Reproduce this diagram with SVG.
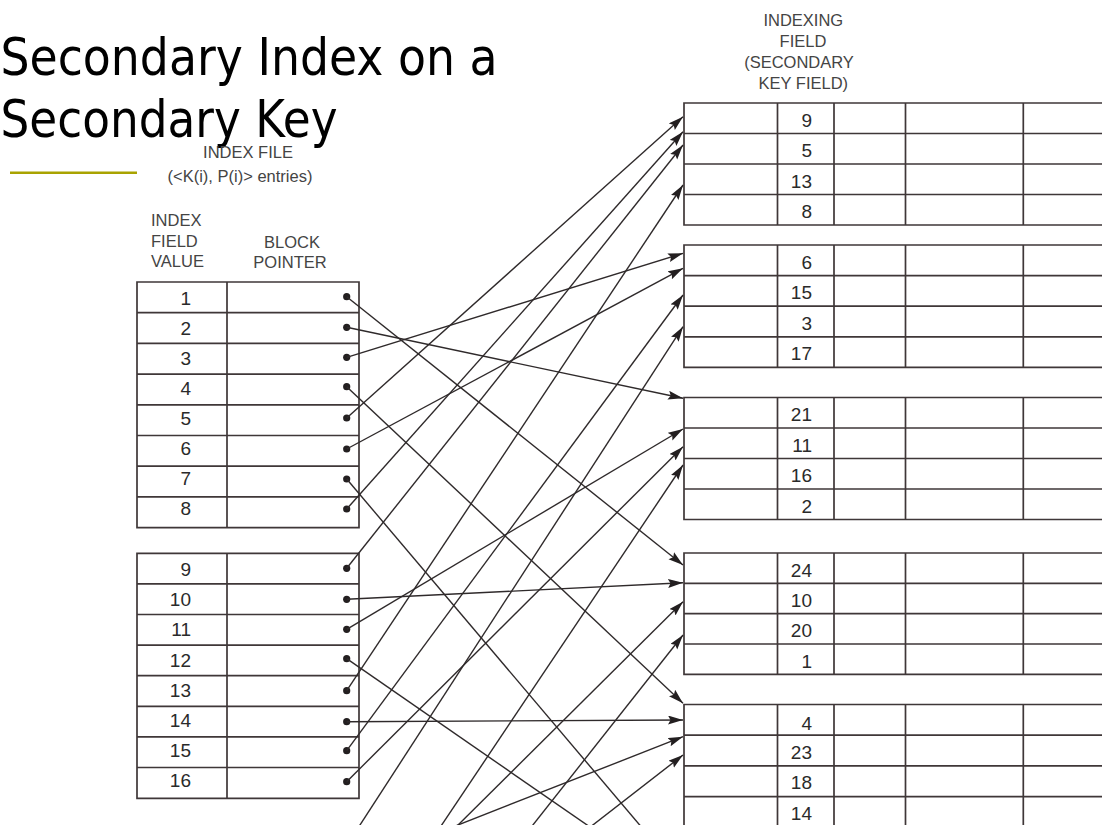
<svg xmlns="http://www.w3.org/2000/svg" width="1102" height="825" viewBox="0 0 1102 825">
<defs>
<marker id="ah" markerUnits="userSpaceOnUse" markerWidth="16" markerHeight="10" refX="15" refY="4.5" orient="auto"><path d="M0,0 L15,4.5 L0,9 L2.5,4.5 z" fill="#231f20"/></marker>
<style>
.tb{fill:none;stroke:#3f3738;stroke-width:1.7}
.num{font-family:"Liberation Sans",Arial,sans-serif;font-size:19px;fill:#2a2a2a;text-anchor:end}
.hd{font-family:"Liberation Sans",Arial,sans-serif;font-size:16.5px;fill:#444}
.mid{text-anchor:middle}
.cn{fill:none;stroke:#2f2a2b;stroke-width:1.4}
.ar{marker-end:url(#ah)}
.dot{fill:#231f20}
.title{font-family:"DejaVu Sans","Verdana",sans-serif;font-size:51px;fill:#000}
</style>
</defs>
<rect width="1102" height="825" fill="#fff"/>

<g id="title">
<text class="title" x="0.5" y="75" textLength="497" lengthAdjust="spacingAndGlyphs">Secondary Index on a</text>
<text class="title" x="0.5" y="137" textLength="337" lengthAdjust="spacingAndGlyphs">Secondary Key</text>
<line x1="10" y1="172.7" x2="137" y2="172.7" stroke="#a9a300" stroke-width="2.5"/>
</g>

<g id="index-header">
<text class="hd mid" x="248" y="158">INDEX FILE</text>
<text class="hd mid" x="240" y="181.5">(&lt;K(i), P(i)&gt; entries)</text>
<text class="hd" x="151" y="226">INDEX</text>
<text class="hd" x="151" y="246.5">FIELD</text>
<text class="hd" x="151" y="267">VALUE</text>
<text class="hd mid" x="292" y="247.5">BLOCK</text>
<text class="hd mid" x="290" y="267.5">POINTER</text>
</g>

<g id="data-header">
<text class="hd mid" x="803.3" y="25.5">INDEXING</text>
<text class="hd mid" x="803" y="47">FIELD</text>
<text class="hd mid" x="799" y="67.5">(SECONDARY</text>
<text class="hd mid" x="803.3" y="88.5">KEY FIELD)</text>
</g>

<g id="index-block-1">
<path class="tb" d="M137,282 H359 V527.6 H137 Z M227,282 V527.6 M137,312.7 H359 M137,343.4 H359 M137,374.1 H359 M137,404.8 H359 M137,435.5 H359 M137,466.2 H359 M137,496.9 H359"/>
<text class="num" x="191" y="304.5">1</text>
<text class="num" x="191" y="334.5">2</text>
<text class="num" x="191" y="364.5">3</text>
<text class="num" x="191" y="394.5">4</text>
<text class="num" x="191" y="424.5">5</text>
<text class="num" x="191" y="454.5">6</text>
<text class="num" x="191" y="484.5">7</text>
<text class="num" x="191" y="514.5">8</text>
<circle class="dot" cx="346.7" cy="296.7" r="3.6"/>
<circle class="dot" cx="346.7" cy="327.3" r="3.6"/>
<circle class="dot" cx="346.7" cy="357.3" r="3.6"/>
<circle class="dot" cx="346.7" cy="386.7" r="3.6"/>
<circle class="dot" cx="346.7" cy="418" r="3.6"/>
<circle class="dot" cx="346.7" cy="449" r="3.6"/>
<circle class="dot" cx="346.7" cy="479" r="3.6"/>
<circle class="dot" cx="346.7" cy="509" r="3.6"/>
</g>

<g id="index-block-2">
<path class="tb" d="M137,553.3 H359 V798.3 H137 Z M227,553.3 V798.3 M137,583.9 H359 M137,614.5 H359 M137,645.1 H359 M137,675.7 H359 M137,706.3 H359 M137,736.9 H359 M137,767.5 H359"/>
<text class="num" x="191" y="576">9</text>
<text class="num" x="191" y="606.2">10</text>
<text class="num" x="191" y="636.4">11</text>
<text class="num" x="191" y="666.6">12</text>
<text class="num" x="191" y="696.8">13</text>
<text class="num" x="191" y="727">14</text>
<text class="num" x="191" y="757.2">15</text>
<text class="num" x="191" y="787.4">16</text>
<circle class="dot" cx="346.7" cy="568.3" r="3.6"/>
<circle class="dot" cx="346.7" cy="599.3" r="3.6"/>
<circle class="dot" cx="346.7" cy="629.3" r="3.6"/>
<circle class="dot" cx="346.7" cy="658.7" r="3.6"/>
<circle class="dot" cx="346.7" cy="690.7" r="3.6"/>
<circle class="dot" cx="346.7" cy="721.7" r="3.6"/>
<circle class="dot" cx="346.7" cy="750.7" r="3.6"/>
<circle class="dot" cx="346.7" cy="781.7" r="3.6"/>
</g>

<g id="data-block-1">
<path class="tb" d="M1104,103 H684 V225 H1104 M684,133.5 H1104 M684,164 H1104 M684,194.5 H1104 M777.5,103 V225 M834,103 V225 M905.5,103 V225 M1023.3,103 V225"/>
<text class="num" x="812" y="126.5">9</text>
<text class="num" x="812" y="157">5</text>
<text class="num" x="812" y="187.5">13</text>
<text class="num" x="812" y="218">8</text>
</g>

<g id="data-block-2">
<path class="tb" d="M1104,245 H684 V367.4 H1104 M684,275.6 H1104 M684,306.2 H1104 M684,336.8 H1104 M777.5,245 V367.4 M834,245 V367.4 M905.5,245 V367.4 M1023.3,245 V367.4"/>
<text class="num" x="812" y="268.5">6</text>
<text class="num" x="812" y="299.1">15</text>
<text class="num" x="812" y="329.7">3</text>
<text class="num" x="812" y="360.3">17</text>
</g>

<g id="data-block-3">
<path class="tb" d="M1104,397.5 H684 V519.5 H1104 M684,428 H1104 M684,458.5 H1104 M684,489 H1104 M777.5,397.5 V519.5 M834,397.5 V519.5 M905.5,397.5 V519.5 M1023.3,397.5 V519.5"/>
<text class="num" x="812" y="421">21</text>
<text class="num" x="812" y="451.5">11</text>
<text class="num" x="812" y="482">16</text>
<text class="num" x="812" y="512.5">2</text>
</g>

<g id="data-block-4">
<path class="tb" d="M1104,553 H684 V674.3 H1104 M684,583.3 H1104 M684,613.6 H1104 M684,644 H1104 M777.5,553 V674.3 M834,553 V674.3 M905.5,553 V674.3 M1023.3,553 V674.3"/>
<text class="num" x="812" y="576.5">24</text>
<text class="num" x="812" y="606.8">10</text>
<text class="num" x="812" y="637.1">20</text>
<text class="num" x="812" y="667.5">1</text>
</g>

<g id="data-block-5">
<path class="tb" d="M1104,704.5 H684 V830 M684,735.2 H1104 M684,765.9 H1104 M684,796.6 H1104 M777.5,704.5 V830 M834,704.5 V830 M905.5,704.5 V830 M1023.3,704.5 V830"/>
<text class="num" x="812" y="730">4</text>
<text class="num" x="812" y="758.7">23</text>
<text class="num" x="812" y="789.4">18</text>
<text class="num" x="812" y="820">14</text>
</g>

<g id="connectors">
<line class="cn ar" x1="346.7" y1="296.7" x2="683" y2="565"/>
<line class="cn ar" x1="346.7" y1="327.3" x2="683" y2="398.3"/>
<line class="cn ar" x1="346.7" y1="357.3" x2="683" y2="253.3"/>
<line class="cn ar" x1="346.7" y1="386.7" x2="683" y2="703.3"/>
<line class="cn ar" x1="346.7" y1="418" x2="683" y2="116.7"/>
<line class="cn ar" x1="346.7" y1="449" x2="683" y2="268.3"/>
<line class="cn" x1="346.7" y1="479" x2="649" y2="836"/>
<line class="cn ar" x1="346.7" y1="509" x2="683" y2="131.7"/>
<line class="cn ar" x1="346.7" y1="568.3" x2="683" y2="145"/>
<line class="cn ar" x1="346.7" y1="599.3" x2="683" y2="582.7"/>
<line class="cn ar" x1="346.7" y1="629.3" x2="683" y2="429"/>
<line class="cn" x1="346.7" y1="658.7" x2="603" y2="836"/>
<line class="cn ar" x1="346.7" y1="690.7" x2="683" y2="185"/>
<line class="cn ar" x1="346.7" y1="721.7" x2="683" y2="720"/>
<line class="cn ar" x1="346.7" y1="750.7" x2="683" y2="295"/>
<line class="cn ar" x1="346.7" y1="781.7" x2="683" y2="446.7"/>
<line class="cn ar" x1="353.5" y1="835" x2="683" y2="326.7"/>
<line class="cn ar" x1="435" y1="835" x2="683" y2="465"/>
<line class="cn ar" x1="448" y1="835" x2="683" y2="601.7"/>
<line class="cn ar" x1="525" y1="835" x2="683" y2="635"/>
<line class="cn ar" x1="432.5" y1="835" x2="683" y2="736.7"/>
<line class="cn ar" x1="580" y1="835" x2="683" y2="755"/>
</g>
</svg>
